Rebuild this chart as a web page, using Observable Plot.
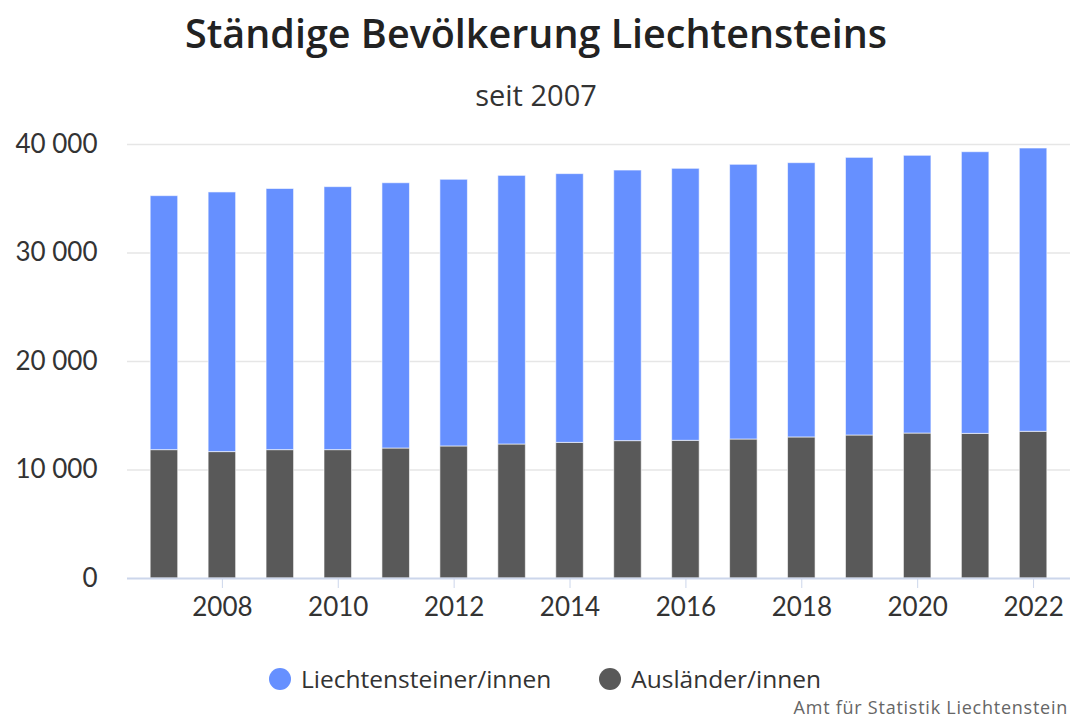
<!DOCTYPE html>
<html><head><meta charset="utf-8">
<script src="https://cdn.jsdelivr.net/npm/d3@7"></script>
<script src="https://cdn.jsdelivr.net/npm/@observablehq/plot@0.6"></script>
<style>
body{margin:0;background:#fff;font-family:"Open Sans",Lato,sans-serif;color:#333;}
#wrap{position:relative;width:1072px;height:722px;overflow:hidden;}
#title{position:absolute;left:0;width:1072px;top:8px;text-align:center;font-size:39.5px;font-weight:600;color:#222;white-space:nowrap;line-height:1.3;}
#subtitle{position:absolute;left:0;width:1072px;top:76px;text-align:center;font-size:29px;color:#333;line-height:1.3;}
#chart{position:absolute;left:0;top:0;}
#legend{position:absolute;left:9px;width:1072px;top:662px;display:flex;justify-content:center;font-size:24.5px;color:#333;}
#legend .item{display:flex;align-items:center;margin:0 24px;}
#legend .dot{width:22px;height:22px;border-radius:50%;margin-right:10px;}
#credit{position:absolute;right:4px;top:697px;font-size:18px;line-height:20px;letter-spacing:0.75px;color:#666;white-space:nowrap;}
</style></head><body>
<div id="wrap">
<div id="title">Ständige Bevölkerung Liechtensteins</div>
<div id="subtitle">seit 2007</div>
<div id="chart"></div>
<div id="legend"></div>
<div id="credit">Amt für Statistik Liechtenstein</div>
</div>
<script>
const years = [2007,2008,2009,2010,2011,2012,2013,2014,2015,2016,2017,2018,2019,2020,2021,2022];
const liechtensteiner = [23410,23930,24070,24240,24450,24580,24760,24770,24940,25070,25320,25280,25590,25600,25960,26110];
const auslaender = [11830,11650,11830,11830,11980,12170,12350,12500,12660,12690,12810,13000,13180,13360,13330,13520];
const seriesNames = ["Liechtensteiner/innen","Ausländer/innen"];
const seriesColors = ["#6690ff","#595959"];
const yTicks = [0,10000,20000,30000,40000];
const xTicks = [2008,2010,2012,2014,2016,2018,2020,2022];

const data = years.flatMap((yr,i)=>[
  {year:yr, series:seriesNames[1], value:auslaender[i]},
  {year:yr, series:seriesNames[0], value:liechtensteiner[i]}
]);
const fmt = d => d3.format(",")(d).replace(/,/g," ");

const chart = Plot.plot({
  width:1072, height:640,
  marginTop:144, marginBottom:62, marginLeft:127, marginRight:2,
  style:{fontFamily:"Lato, 'Open Sans', sans-serif", fontSize:"26px", color:"#333", background:"transparent"},
  x:{type:"band", domain:years, paddingInner:0.525, paddingOuter:0.4, round:false, label:null},
  y:{domain:[0,40000], label:null},
  color:{domain:seriesNames, range:seriesColors},
  marks:[
    Plot.ruleY(yTicks.filter(d=>d>0), {stroke:"#e6e6e6", strokeWidth:1.5}),
    Plot.barY(data, Plot.stackY({x:"year", y:"value", fill:"series", stroke:"#ffffff", strokeOpacity:0.6, strokeWidth:1, order:null})),
    Plot.ruleY([0], {stroke:"#ccd6eb", strokeWidth:2}),
    Plot.axisY({ticks:yTicks, tickSize:0, tickPadding:30, tickFormat:fmt, label:null, fill:"#333"}),
    Plot.axisX({ticks:xTicks, tickSize:10, tickPadding:9, stroke:"#ccd6eb", label:null, fill:"#333", tickFormat:d=>String(d)})
  ]
});
document.getElementById("chart").appendChild(chart);

const legend = document.getElementById("legend");
seriesNames.forEach((n,i)=>{
  const it = document.createElement("div"); it.className="item";
  const dot = document.createElement("span"); dot.className="dot"; dot.style.background=seriesColors[i];
  const t = document.createElement("span"); t.textContent=n;
  it.appendChild(dot); it.appendChild(t); legend.appendChild(it);
});
</script>
</body></html>
